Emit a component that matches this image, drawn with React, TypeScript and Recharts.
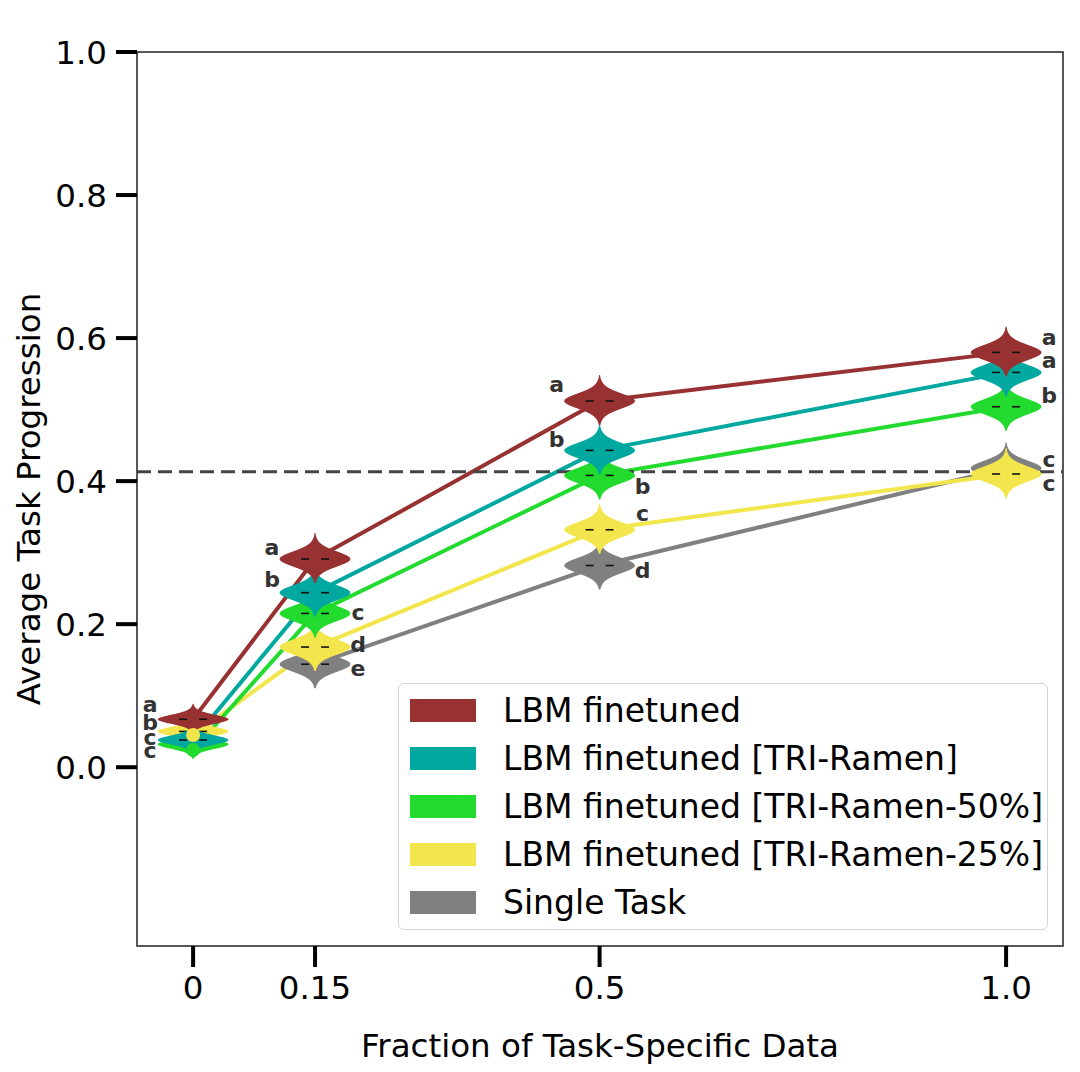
import {
  ComposedChart,
  Line,
  Scatter,
  XAxis,
  YAxis,
  Label,
  ReferenceLine,
  ReferenceArea,
} from "recharts";

const X_TICKS = [0, 0.15, 0.5, 1.0];
const Y_TICKS = [0, 0.2, 0.4, 0.6, 0.8, 1.0];
const SINGLE_TASK_LEVEL = 0.413;

// how spread out the runs are at each fraction (scales violin height)
const SPREAD = [0.6, 1, 1, 1];

// mean per fraction (the line) and centre of each violin
const RED_LINE = [0.067, 0.291, 0.512, 0.58];
const RED_VIOLIN = [0.067, 0.291, 0.512, 0.58];
const RED_LETTERS = ["a", "a", "a", "a"];

const TEAL_LINE = [0.038, 0.244, 0.443, 0.552];
const TEAL_VIOLIN = [0.038, 0.244, 0.443, 0.552];
const TEAL_LETTERS = ["c", "b", "b", "a"];

const GREEN_LINE = [0.024, 0.215, 0.408, 0.504];
const GREEN_VIOLIN = [0.032, 0.215, 0.408, 0.504];
const GREEN_LETTERS = ["c", "c", "b", "b"];

const YELLOW_LINE = [0.045, 0.168, 0.332, 0.41];
const YELLOW_VIOLIN = [0.05, 0.168, 0.332, 0.41];
const YELLOW_LETTERS = ["b", "d", "c", "c"];

const GRAY_LINE = [null, 0.144, 0.282, 0.418];
const GRAY_VIOLIN = [null, 0.144, 0.282, 0.418];
const GRAY_LETTERS = ["", "e", "d", "c"];

// where each letter sits next to its violin: [side, dy in px]
const RED_NUDGE = [[-1, -15], [-1, -12], [-1, -17], [1, -15]];
const TEAL_NUDGE = [[-1, -3], [-1, -13], [-1, -11], [1, -12]];
const GREEN_NUDGE = [[-1, 6], [1, -1], [1, 11], [1, -11]];
const YELLOW_NUDGE = [[-1, -9], [1, -3], [1, -16], [1, 10]];
const GRAY_NUDGE = [[0, 0], [1, 4], [1, 5], [1, -9]];

type SeriesDef = {
  name: string;
  color: string;
  line: (number | null)[];
  violin: (number | null)[];
  letters: string[];
  nudge: number[][];
  dotAtZero: boolean;
};

const SERIES: SeriesDef[] = [
  { name: "Single Task", color: "#808080", line: GRAY_LINE, violin: GRAY_VIOLIN, letters: GRAY_LETTERS, nudge: GRAY_NUDGE, dotAtZero: false },
  { name: "LBM finetuned [TRI-Ramen-25%]", color: "#F2E64C", line: YELLOW_LINE, violin: YELLOW_VIOLIN, letters: YELLOW_LETTERS, nudge: YELLOW_NUDGE, dotAtZero: true },
  { name: "LBM finetuned [TRI-Ramen-50%]", color: "#23DA2F", line: GREEN_LINE, violin: GREEN_VIOLIN, letters: GREEN_LETTERS, nudge: GREEN_NUDGE, dotAtZero: true },
  { name: "LBM finetuned [TRI-Ramen]", color: "#00A89F", line: TEAL_LINE, violin: TEAL_VIOLIN, letters: TEAL_LETTERS, nudge: TEAL_NUDGE, dotAtZero: false },
  { name: "LBM finetuned", color: "#983232", line: RED_LINE, violin: RED_VIOLIN, letters: RED_LETTERS, nudge: RED_NUDGE, dotAtZero: false },
];

const LEGEND_ORDER = [...SERIES].reverse();

const FONT = "DejaVu Sans";

function violinPath(cx: number, cy: number, spread: number) {
  const right: string[] = [];
  const left: string[] = [];
  for (let dy = -26; dy <= 24; dy += 1) {
    const a = Math.abs(dy);
    const w = 33 * Math.exp(-Math.pow(a / 10.5, 2)) + 2.4 * Math.exp(-Math.pow(a / 22, 4));
    const y = cy + dy * spread;
    right.push(`${(cx + w).toFixed(1)},${y.toFixed(1)}`);
    left.unshift(`${(cx - w).toFixed(1)},${y.toFixed(1)}`);
  }
  return `M${right.join(" L")} L${left.join(" L")} Z`;
}

function makeViolin(color: string) {
  return (props: any) => {
    const { cx, cy, payload } = props;
    if (cx == null || cy == null) return <g />;
    const [side, dy] = payload.nudge;
    return (
      <g>
        <path d={violinPath(cx, cy, payload.spread)} fill={color} />
        <line x1={cx - 14} x2={cx - 6} y1={cy} y2={cy} stroke="#111" strokeWidth={1.6} />
        <line x1={cx + 6} x2={cx + 14} y1={cy} y2={cy} stroke="#111" strokeWidth={1.6} />
        {payload.letter ? (
          <text
            x={cx + side * 43}
            y={cy + dy}
            textAnchor="middle"
            dominantBaseline="central"
            fontFamily={FONT}
            fontWeight="bold"
            fontSize={22}
            fill="#333"
          >
            {payload.letter}
          </text>
        ) : null}
      </g>
    );
  };
}

function YTitle(props: any) {
  const vb = props.viewBox;
  const cy = vb.y + vb.height / 2;
  return (
    <text
      x={21}
      y={cy}
      transform={`rotate(-90, 21, ${cy})`}
      textAnchor="middle"
      dominantBaseline="central"
      fontFamily={FONT}
      fontSize={32.5}
      fill="#000"
    >
      Average Task Progression
    </text>
  );
}

function XTitle(props: any) {
  const vb = props.viewBox;
  return (
    <text
      x={vb.x + vb.width / 2}
      y={1049}
      textAnchor="middle"
      fontFamily={FONT}
      fontSize={32.5}
      fill="#000"
    >
      Fraction of Task-Specific Data
    </text>
  );
}

function LegendBox() {
  return (
    <div
      style={{
        position: "absolute",
        left: 390,
        top: 675,
        width: 650,
        height: 247,
        border: "1.5px solid #d4d4d4",
        borderRadius: 6,
        background: "rgba(255,255,255,0.85)",
        paddingTop: 2,
        boxSizing: "border-box",
        fontFamily: FONT,
        fontSize: 33,
        color: "#000",
      }}
    >
      {LEGEND_ORDER.map((s) => (
        <div key={s.name} style={{ display: "flex", alignItems: "center", height: 48 }}>
          <div style={{ width: 66, height: 23, background: s.color, marginLeft: 11, marginRight: 27 }} />
          <span style={{ whiteSpace: "nowrap" }}>{s.name}</span>
        </div>
      ))}
    </div>
  );
}

export default function App() {
  return (
    <div style={{ position: "relative", width: 1064, height: 1056 }}>
      <ComposedChart width={1064} height={1056} margin={{ top: 44, right: 9, left: 0, bottom: 0 }}>
        <XAxis
          dataKey="x"
          type="number"
          domain={[-0.069, 1.07]}
          allowDataOverflow
          ticks={X_TICKS}
          tickFormatter={(v) => (v === 0 ? "0" : v === 1 ? "1.0" : String(v))}
          height={118}
          axisLine={false}
          tickLine={{ stroke: "#000", strokeWidth: 4 }}
          tickSize={21}
          tickMargin={9}
          tick={{ fill: "#000", fontSize: 32.5, fontFamily: FONT }}
          interval={0}
        >
          <Label content={XTitle} />
        </XAxis>
        <YAxis
          type="number"
          domain={[-0.25, 1.0]}
          allowDataOverflow
          ticks={Y_TICKS}
          tickFormatter={(v) => v.toFixed(1)}
          width={129}
          axisLine={false}
          tickLine={{ stroke: "#000", strokeWidth: 4 }}
          tickSize={21}
          tickMargin={9}
          tick={{ fill: "#000", fontSize: 32.5, fontFamily: FONT }}
          interval={0}
        >
          <Label content={YTitle} />
        </YAxis>
        <ReferenceArea
          x1={-0.069}
          x2={1.07}
          y1={-0.25}
          y2={1.0}
          fill="none"
          fillOpacity={0}
          stroke="#222"
          strokeWidth={1.5}
        />
        {SERIES.map((s) => (
          <Scatter
            key={"v-" + s.name}
            name={s.name}
            data={X_TICKS.map((x, i) => ({
              x,
              y: s.violin[i],
              letter: s.letters[i],
              nudge: s.nudge[i],
              spread: SPREAD[i],
            })).filter((d) => d.y != null)}
            dataKey="y"
            shape={makeViolin(s.color)}
            isAnimationActive={false}
          />
        ))}
        {SERIES.map((s) => (
          <Line
            key={"l-" + s.name}
            name={s.name}
            data={X_TICKS.map((x, i) => ({ x, y: s.line[i] })).filter((d) => d.y != null)}
            dataKey="y"
            type="linear"
            stroke={s.color}
            strokeWidth={4}
            dot={(p: any) =>
              s.dotAtZero && p.payload.x === 0 ? (
                <circle key={p.key} cx={p.cx} cy={p.cy} r={7} fill={s.color} />
              ) : (
                <g key={p.key} />
              )
            }
            activeDot={false}
            isAnimationActive={false}
          />
        ))}
        <ReferenceLine
          y={SINGLE_TASK_LEVEL}
          stroke="#444"
          strokeWidth={3}
          strokeDasharray="14 7"
        />
      </ComposedChart>
      <LegendBox />
    </div>
  );
}
